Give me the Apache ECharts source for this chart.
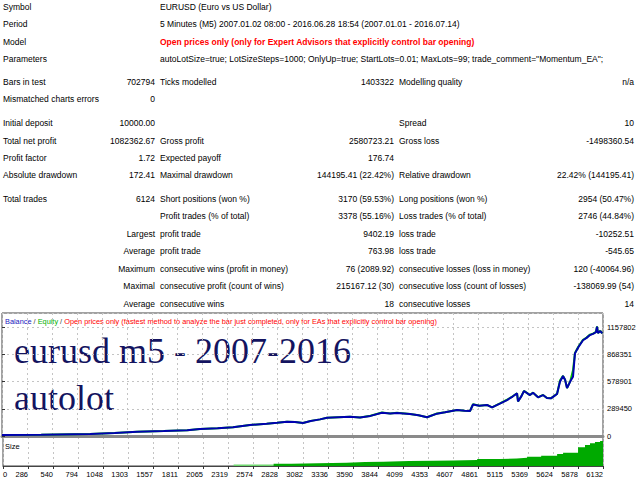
<!DOCTYPE html>
<html><head><meta charset="utf-8">
<script src="https://cdn.jsdelivr.net/npm/echarts@6/dist/echarts.min.js"></script>
<style>html,body{margin:0;padding:0;background:#fff}#c{width:640px;height:480px}</style>
</head><body><div id="c"></div>
<script>
// ---------- report text ----------
const headerLabels = ["Symbol", "Period", "Model", "Parameters"];
const headerTexts = [
  "EURUSD (Euro vs US Dollar)",
  "5 Minutes (M5) 2007.01.02 08:00 - 2016.06.28 18:54 (2007.01.01 - 2016.07.14)",
  "Open prices only (only for Expert Advisors that explicitly control bar opening)",
  'autoLotSize=true; LotSizeSteps=1000; OnlyUp=true; StartLots=0.01; MaxLots=99; trade_comment="Momentum_EA";'
];
const statRows = [
  ["Bars in test", "702794", "Ticks modelled", "1403322", "Modelling quality", "n/a"],
  ["Mismatched charts errors", "0", "", "", "", ""],
  ["Initial deposit", "10000.00", "", "", "Spread", "10"],
  ["Total net profit", "1082362.67", "Gross profit", "2580723.21", "Gross loss", "-1498360.54"],
  ["Profit factor", "1.72", "Expected payoff", "176.74", "", ""],
  ["Absolute drawdown", "172.41", "Maximal drawdown", "144195.41 (22.42%)", "Relative drawdown", "22.42% (144195.41)"],
  ["Total trades", "6124", "Short positions (won %)", "3170 (59.53%)", "Long positions (won %)", "2954 (50.47%)"],
  ["", "", "Profit trades (% of total)", "3378 (55.16%)", "Loss trades (% of total)", "2746 (44.84%)"],
  ["", "Largest", "profit trade", "9402.19", "loss trade", "-10252.51"],
  ["", "Average", "profit trade", "763.98", "loss trade", "-545.65"],
  ["", "Maximum", "consecutive wins (profit in money)", "76 (2089.92)", "consecutive losses (loss in money)", "120 (-40064.96)"],
  ["", "Maximal", "consecutive profit (count of wins)", "215167.12 (30)", "consecutive loss (count of losses)", "-138069.99 (54)"],
  ["", "Average", "consecutive wins", "18", "consecutive losses", "14"]
];
const chartHeader = ["Balance", "Equity", "Open prices only (fastest method to analyze the bar just completed, only for EAs that explicitly control bar opening)"];
const captionLines = ["eurusd m5 - 2007-2016", "autolot"];
const sizeLabel = "Size";

// ---------- chart data ----------
const xTickLabels = ["0","286","540","794","1048","1303","1557","1811","2065","2319","2574","2828","3082","3336","3590","3844","4099","4353","4607","4861","5115","5369","5624","5878","6132"];
const yTickStep = 289450.5;

const balanceTrades = [0,400,900,1150,1380,1650,1890,2020,2200,2357,2530,2700,2806,2908,2990,3071,3150,3245,3316,3430,3551,3653,3760,3877,3960,4030,4163,4250,4336,4438,4520,4643,4720,4775,4806,4870,4949,5000,5080,5153,5210,5255,5265,5300,5326,5387,5418,5469,5520,5560,5600,5640,5663,5693,5724,5745,5765,5800,5826,5846,5880,5928,5965,5999,6035,6060,6071,6081,6105,6124];
const balance = [10000,14000,22000,33000,45000,52000,62000,74000,82000,92000,117000,130000,141000,152000,148000,138000,160000,177000,194000,200000,205000,198000,214000,248000,240000,246000,234000,222000,200000,238000,252000,277000,268000,266000,335000,322000,330000,305000,345000,383000,420000,454000,368000,425000,479000,436000,461000,412000,436000,405000,401000,430000,447000,578000,638000,600000,510000,585000,631000,880000,945000,1020000,1045000,1075000,1090000,1105000,1164000,1096000,1118000,1092362];
const equity = [10000,14000,22000,33000,45000,52000,62000,74000,82000,92000,118000,130000,141000,153000,148000,138000,161000,177000,194000,201000,205000,198000,215000,250000,240000,247000,234000,222000,200000,239000,254000,278000,268000,266000,338000,322000,331000,305000,347000,386000,423000,455000,368000,427000,481000,436000,462000,412000,437000,405000,401000,432000,448000,590000,640000,600000,510000,590000,700000,885000,950000,1025000,1048000,1080000,1092000,1108000,1166000,1096000,1120000,1092362];

const sizeLightTrades = [2357, 2765];
const sizeLightLots = [0.65, 0.65];
const sizeTrades = [2765,2950,3214,3510,3700,3887,4150,4400,4601,4846,5081,5250,5356,5500,5663,5724,5877,5948,5999,6050,6102,6132];
const sizeLots = [1.0,1.2,1.4,1.7,1.9,2.2,2.3,2.4,2.6,3.0,3.3,3.6,4.0,4.5,5.2,5.8,8.1,9.1,9.9,10.4,10.9,11.0];

// ---------- build ----------
const zip = (a, b) => a.map((v, i) => [v, b[i]]);
const FONT = '"Liberation Sans", Arial, sans-serif';
const FS = 8.5;

const graphics = [];
function txt(x, y, text, opts) {
  graphics.push({
    type: 'text', x: x, y: y, silent: true,
    style: Object.assign({ text: text, fill: '#000', fontSize: FS, fontFamily: FONT, align: 'left', verticalAlign: 'middle' }, opts || {})
  });
}
const headerY = [7, 24, 42, 59];
headerLabels.forEach((l, i) => {
  txt(3, headerY[i], l);
  if (i === 2) txt(160, headerY[i], headerTexts[i], { fill: '#ff0000', fontWeight: 'bold' });
  else txt(160, headerY[i], headerTexts[i]);
});
const statY = [82, 99, 123, 141, 158, 175, 199, 216, 234, 251, 269, 286, 304];
const colX = [3, 155, 160, 394, 399, 634];
const colAlign = ['left', 'right', 'left', 'right', 'left', 'right'];
statRows.forEach((row, r) => {
  row.forEach((cell, c) => {
    if (cell) txt(colX[c], statY[r], cell, { align: colAlign[c] });
  });
});
// chart header
const HF = 7.35;
graphics.push({
  type: 'text', x: 5, y: 321, silent: true,
  style: {
    text: '{b|' + chartHeader[0] + '}{s| / }{g|' + chartHeader[1] + '}{s| / }{r|' + chartHeader[2] + '}',
    fontSize: HF, fontFamily: FONT, verticalAlign: 'middle',
    rich: {
      b: { fill: '#2020c0', fontSize: HF, fontFamily: FONT },
      s: { fill: '#404040', fontSize: HF, fontFamily: FONT },
      g: { fill: '#00b000', fontSize: HF, fontFamily: FONT },
      r: { fill: '#ff0000', fontSize: HF, fontFamily: FONT }
    }
  }
});
// caption
const capY = [351, 398];
captionLines.forEach((t, i) => {
  txt(14, capY[i], t, { fill: '#141460', fontSize: 36, fontFamily: '"Liberation Serif", "DejaVu Serif", serif' });
});
txt(5, 446, sizeLabel, { fontSize: 7.5 });

const gridLine = { show: true, lineStyle: { color: '#c4c4c4', type: [2, 3], width: 1 } };

const chart = echarts.init(document.getElementById('c'), null, { renderer: 'svg' });
chart.setOption({
  animation: false,
  backgroundColor: '#fff',
  grid: [
    { left: 2, top: 313, width: 601, height: 123, show: true, borderColor: '#444', borderWidth: 1, backgroundColor: '#fff' },
    { left: 2, top: 437, width: 601, height: 29, show: true, borderColor: '#444', borderWidth: 1, backgroundColor: '#fff' }
  ],
  xAxis: [
    { type: 'category', gridIndex: 0, data: xTickLabels, boundaryGap: false, position: 'bottom',
      axisLabel: { show: false }, axisTick: { show: false },
      axisLine: { show: true, lineStyle: { color: '#8a8a8a', width: 3 } },
      splitLine: Object.assign({ interval: 0 }, gridLine) },
    { type: 'value', gridIndex: 0, min: 0, max: 6132, show: false },
    { type: 'category', gridIndex: 1, data: xTickLabels, boundaryGap: false, position: 'bottom',
      axisLabel: { show: true, interval: 0, fontSize: 7.5, fontFamily: FONT, color: '#000', align: 'right', alignMinLabel: 'left', margin: 4, hideOverlap: false },
      axisTick: { show: true, interval: 0, length: 3, lineStyle: { color: '#333' } },
      axisLine: { show: true, lineStyle: { color: '#444', width: 1 } },
      splitLine: Object.assign({ interval: 0 }, gridLine) },
    { type: 'value', gridIndex: 1, min: 0, max: 6132, show: false }
  ],
  yAxis: [
    { type: 'value', gridIndex: 0, position: 'right', min: 0, max: 1310000, interval: yTickStep,
      axisLabel: { showMaxLabel: false, fontSize: 7.5, fontFamily: FONT, color: '#000', margin: 4,
        formatter: v => String(Math.floor(v)) },
      axisTick: { show: true, length: 3, lineStyle: { color: '#333' } },
      axisLine: { show: false },
      splitLine: gridLine },
    { type: 'value', gridIndex: 1, min: 0, max: 12.6, show: false, splitLine: { show: false } }
  ],
  series: [
    { type: 'line', name: 'Equity', xAxisIndex: 1, yAxisIndex: 0, data: zip(balanceTrades, equity),
      showSymbol: false, lineStyle: { color: '#00c000', width: 2 }, itemStyle: { color: '#00c000' }, z: 3 },
    { type: 'line', name: 'Balance', xAxisIndex: 1, yAxisIndex: 0, data: zip(balanceTrades, balance),
      showSymbol: false, lineStyle: { color: '#0000b0', width: 2 }, itemStyle: { color: '#0000b0' }, z: 4 },
    { type: 'line', name: 'SizeLight', xAxisIndex: 3, yAxisIndex: 1, data: zip(sizeLightTrades, sizeLightLots), step: 'end',
      showSymbol: false, lineStyle: { width: 0 }, areaStyle: { color: '#70d870', opacity: 1 }, z: 2 },
    { type: 'line', name: 'Size', xAxisIndex: 3, yAxisIndex: 1, data: zip(sizeTrades, sizeLots), step: 'end',
      showSymbol: false, lineStyle: { width: 0 }, areaStyle: { color: '#00aa00', opacity: 1 }, z: 2 }
  ],
  graphic: graphics
});
</script>
</body></html>
